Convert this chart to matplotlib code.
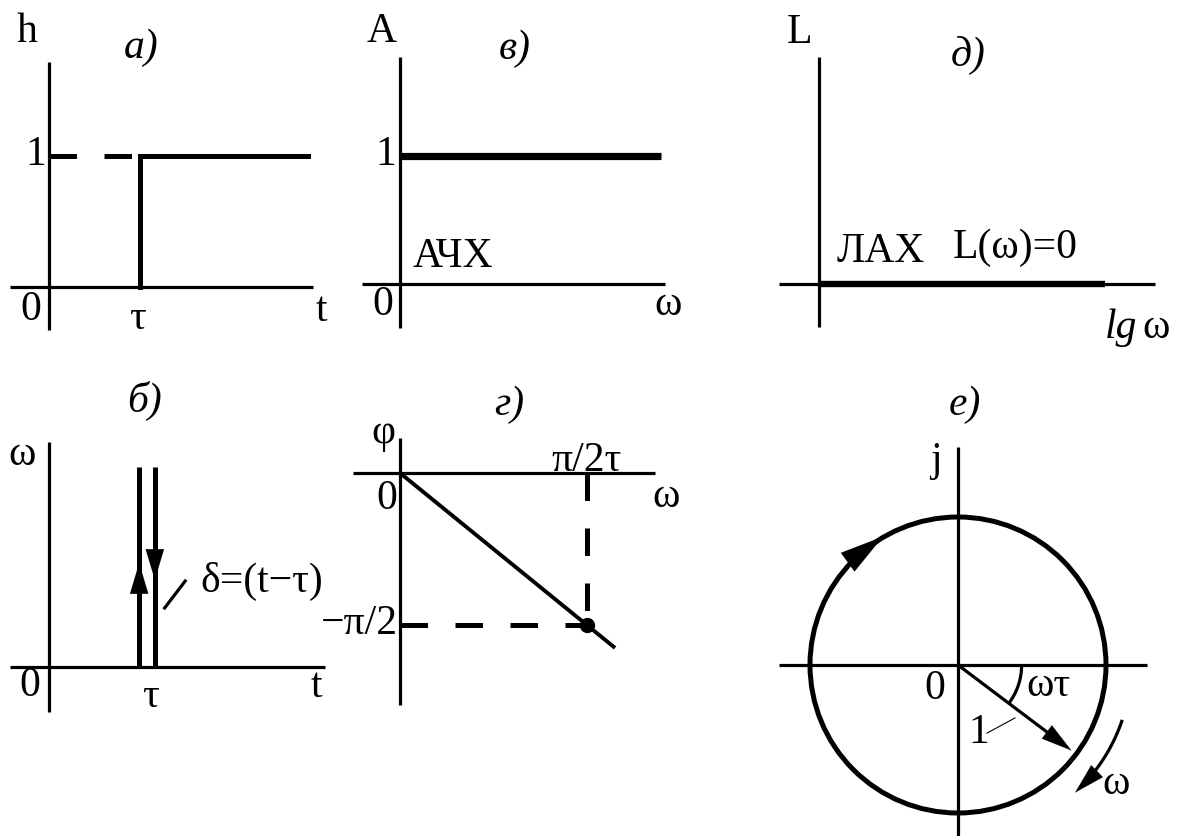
import numpy as np
import matplotlib.pyplot as plt
from matplotlib.patches import Circle, Arc

plt.rcParams['font.family'] = ['Liberation Serif', 'DejaVu Serif']
plt.rcParams['font.size'] = 30

# --- characteristics of the pure delay element ---
tau = 1.0
# a) step response h(t)
step_t = [tau, tau, 2.85]
step_h = [0.0, 1.0, 1.0]
# б) impulse response: two rails either side of t = tau
impulse_offset = 0.08
impulse_height = 2.0
# в) amplitude response A(w) = 1
afc_w = [0.0, 2.61]
afc_A = [1.0, 1.0]
# д) log amplitude L(w) = 0
lah_lgw = [0.0, 2.86]
lah_L = [0.0, 0.0]
# г) phase response phi(w) = -w*tau
pfc_w = [0.0, 1.807]
pfc_phi = [0.0, -1.807]
mark_w = np.pi / 2
mark_phi = -np.pi / 2
# е) hodograph: unit circle, vector at angle w*tau
hodo_r = 1.0
wt_deg = 37.0

W, H = 1185, 836
fig = plt.figure(figsize=(W / 100, H / 100), dpi=100)

AX_LW = 2.3
THICK = 3.6


def panel(origin, unit, xlim, ylim):
    """Axes whose data origin sits at a given pixel position."""
    ox, oy = origin
    ux, uy = unit
    left, right = ox + xlim[0] * ux, ox + xlim[1] * ux
    top, bottom = oy - ylim[1] * uy, oy - ylim[0] * uy
    ax = fig.add_axes([left / W, 1 - bottom / H, (right - left) / W, (bottom - top) / H])
    ax.set_xlim(xlim)
    ax.set_ylim(ylim)
    ax.axis('off')
    return ax


def cross(ax, xspan, yspan):
    ax.plot(xspan, [0, 0], color='black', lw=AX_LW, solid_capstyle='butt', clip_on=False)
    ax.plot([0, 0], yspan, color='black', lw=AX_LW, solid_capstyle='butt', clip_on=False)


def head(ax, tail, tip, hl=0.9, hw=0.35, ms=22):
    ax.annotate('', xy=tip, xytext=tail,
                arrowprops=dict(arrowstyle=f'-|>,head_length={hl},head_width={hw}',
                                color='black', lw=0.1, mutation_scale=ms,
                                shrinkA=0, shrinkB=0))


def label(ax, x, y, s, **kw):
    kw.setdefault('ha', 'center')
    ax.text(x, y, s, va='center', **kw)


# a) step response
ax = panel((49, 287), (91, 131), (-0.6, 3.3), (-0.5, 2.2))
cross(ax, [-0.43, 2.90], [-0.33, 1.72])
ax.plot([0, tau], [1, 1], color='black', lw=THICK, dashes=(5.5, 5.5), clip_on=False)
ax.plot(step_t, step_h, color='black', lw=THICK, solid_joinstyle='miter', clip_on=False)
label(ax, -0.24, 1.95, 'h')
label(ax, 1.01, 1.83, 'а)', style='italic')
label(ax, -0.03, 1.01, '1', ha='right')
label(ax, -0.20, -0.17, '0')
label(ax, 0.97, -0.24, 'τ')
label(ax, 2.99, -0.18, 't')

# б) impulse response
ax = panel((49, 667), (98, 100), (-0.6, 3.1), (-0.5, 2.9))
cross(ax, [-0.40, 2.82], [-0.45, 2.25])
for dx in (-impulse_offset, impulse_offset):
    ax.plot([tau + dx, tau + dx], [0, impulse_height], color='black', lw=THICK,
            solid_capstyle='butt')
head(ax, (tau - impulse_offset, 0.80), (tau - impulse_offset, 1.04), hl=1.0, hw=0.3)
head(ax, (tau + impulse_offset, 1.10), (tau + impulse_offset, 0.87), hl=1.0, hw=0.3)
ax.plot([1.18, 1.39], [0.59, 0.86], color='black', lw=AX_LW)
label(ax, 1.54, 0.86, 'δ=(t−τ)', ha='left')
label(ax, 0.97, 2.66, 'б)', style='italic')
label(ax, -0.27, 2.12, 'ω')
label(ax, -0.20, -0.19, '0')
label(ax, 1.03, -0.30, 'τ')
label(ax, 2.73, -0.20, 't')

# в) amplitude response
ax = panel((400, 284), (100, 128), (-0.5, 2.9), (-0.5, 2.3))
cross(ax, [-0.38, 2.65], [-0.34, 1.77])
ax.plot(afc_w, afc_A, color='black', lw=5.2, solid_capstyle='butt')
label(ax, -0.18, 1.97, 'A')
label(ax, 1.15, 1.84, 'в)', style='italic')
label(ax, -0.04, 1.01, '1', ha='right')
label(ax, 0.53, 0.21, 'АЧХ')
label(ax, -0.17, -0.16, '0')
label(ax, 2.68, -0.16, 'ω')

# д) log amplitude response
ax = panel((819, 284), (100, 100), (-0.5, 3.6), (-0.6, 2.8))
cross(ax, [-0.40, 3.36], [-0.43, 2.27])
ax.plot(lah_lgw, lah_L, color='black', lw=4.6, solid_capstyle='butt')
label(ax, -0.20, 2.51, 'L')
label(ax, 1.49, 2.29, 'д)', style='italic')
label(ax, 0.62, 0.32, 'ЛАХ')
label(ax, 1.96, 0.36, 'L(ω)=0')
label(ax, 3.02, -0.44, 'lg', style='italic')
label(ax, 3.37, -0.44, 'ω')

# г) phase response
ax = panel((400, 473), (119, 96.8), (-0.5, 2.4), (-2.6, 0.9))
cross(ax, [-0.395, 2.14], [-2.40, 0.36])
ax.plot([0, mark_w], [mark_phi, mark_phi], color='black', lw=THICK, dashes=(5.5, 5.5))
ax.plot([mark_w, mark_w], [0, mark_phi], color='black', lw=THICK, dashes=(5.5, 5.5))
ax.plot(pfc_w, pfc_phi, color='black', lw=2.8, solid_capstyle='butt')
ax.plot([mark_w], [mark_phi], 'o', color='black', ms=10)
label(ax, 0.92, 0.70, 'г)', style='italic')
label(ax, -0.14, 0.42, 'φ')
label(ax, mark_w, 0.13, 'π/2τ')
label(ax, -0.11, -0.27, '0')
label(ax, 2.24, -0.25, 'ω')
label(ax, -0.02, mark_phi + 0.01, '−π/2', ha='right')

# е) amplitude-phase hodograph
ax = panel((958, 665), (148, 148), (-1.4, 1.7), (-1.2, 1.9))
cross(ax, [-1.21, 1.28], [-1.20, 1.47])
ax.add_patch(Circle((0, 0), hodo_r, fill=False, color='black', lw=THICK))
# direction of travel along the circle (clockwise)
th = np.deg2rad(126)
tang = np.array([np.sin(th), -np.cos(th)])
p = hodo_r * np.array([np.cos(th), np.sin(th)])
head(ax, tuple(p - 0.10 * tang), tuple(p + 0.10 * tang), hl=1.2, hw=0.32, ms=26)
# unit vector at angle -w*tau
wt = np.deg2rad(-wt_deg)
tip = 0.96 * hodo_r * np.array([np.cos(wt), np.sin(wt)])
ax.plot([0, tip[0] * 0.9], [0, tip[1] * 0.9], color='black', lw=AX_LW)
head(ax, tuple(tip * 0.8), tuple(tip), hl=1.1, hw=0.3, ms=20)
ax.add_patch(Arc((0, 0), 0.86, 0.86, theta1=-wt_deg, theta2=0, color='black', lw=AX_LW))
ax.plot([0.196, 0.385], [-0.46, -0.358], color='black', lw=0.8)
# rotation sense of w
a = np.deg2rad(np.linspace(-19, -44, 30))
ra = 1.17
ax.plot(ra * np.cos(a), ra * np.sin(a), color='black', lw=AX_LW)
a_end = np.deg2rad(-47.5)
head(ax, (ra * np.cos(a[-1]), ra * np.sin(a[-1])), (ra * np.cos(a_end), ra * np.sin(a_end)),
     hl=1.1, hw=0.3, ms=20)
label(ax, 0.05, 1.76, 'е)', style='italic')
label(ax, -0.15, 1.38, 'j')
label(ax, -0.155, -0.16, '0')
label(ax, 0.61, -0.14, 'ωτ')
label(ax, 0.14, -0.46, '1')
label(ax, 1.07, -0.80, 'ω')

fig.savefig('out.png', dpi=100, facecolor='white')
